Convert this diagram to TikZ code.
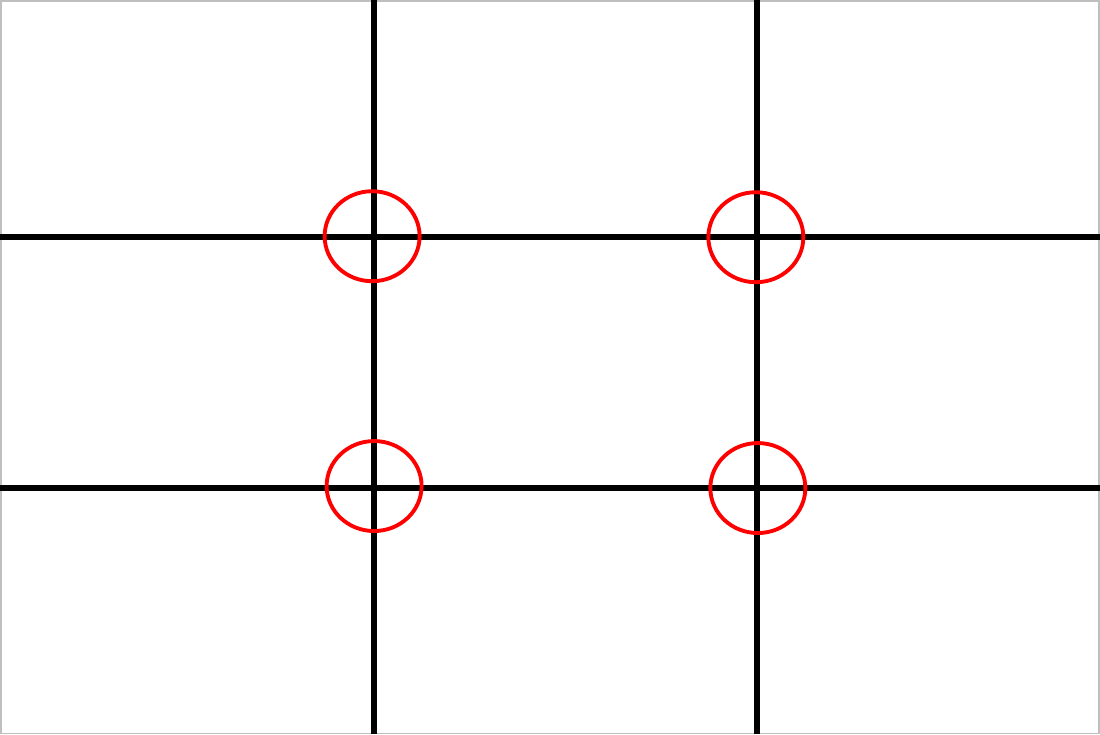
\documentclass[tikz,border=0pt]{standalone}
\usepackage{tikz}
\usetikzlibrary{shapes, positioning, calc}

\begin{document}
\begin{tikzpicture}[x=0.01cm, y=-0.01cm,
    gridline/.style={line width=1.7pt, black},
    mark circle/.style={ellipse, draw=red, line width=1.1pt, minimum width=0.95cm, minimum height=0.9cm, inner sep=0pt}]

    % frame
    \fill[white] (0,0) rectangle (1100,734);
    \draw[gray!50, line width=0.5pt] (0.5,0.5) rectangle (1099.5,733.5);
    \useasboundingbox (0,0) rectangle (1100,734);

    % thirds
    \coordinate (lt) at (374,0);   \coordinate (lb) at (374,734);
    \coordinate (rt) at (757,0);   \coordinate (rb) at (757,734);
    \coordinate (tl) at (0,237);   \coordinate (tr) at (1100,237);
    \coordinate (bl) at (0,488);   \coordinate (br) at (1100,488);
    \draw[gridline] (lt) -- (lb);
    \draw[gridline] (rt) -- (rb);
    \draw[gridline] (tl) -- (tr);
    \draw[gridline] (bl) -- (br);

    % power points
    \node[mark circle] (p1) at (372,236) {};
    \node[mark circle] (p2) at (756,237) {};
    \node[mark circle] (p3) at (374,486) {};
    \node[mark circle] (p4) at (758,488) {};
\end{tikzpicture}
\end{document}
